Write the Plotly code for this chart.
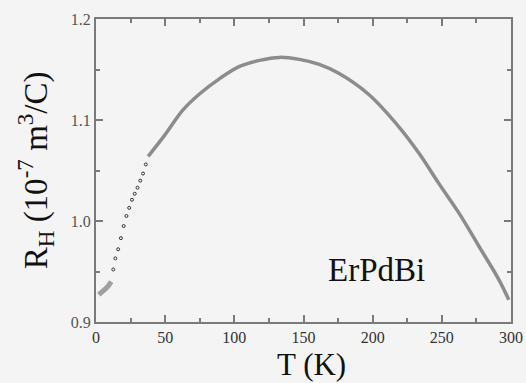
import plotly.graph_objects as go

# Low-temperature cluster (drawn as thick gray segment)
T_low = [2, 3, 5, 7, 9, 11]
R_low = [0.927, 0.928, 0.931, 0.933, 0.936, 0.940]

# Sparse dotted points
T_dot = [12.5, 14, 16, 18, 20, 22, 24, 26, 28, 30, 32, 34, 36]
R_dot = [0.952, 0.963, 0.972, 0.983, 0.995, 1.005, 1.013, 1.021, 1.027, 1.033, 1.040, 1.047, 1.056]

# Main continuous curve
T_main = [37.7, 49.7, 62.9, 75, 89.4, 103.8, 118.2, 132.6, 147, 161.4, 175.8,
          197.4, 219.1, 233.5, 247.9, 262.3, 276.8, 291.2, 298.4]
R_main = [1.064, 1.085, 1.110, 1.126, 1.141, 1.153, 1.159, 1.162, 1.160, 1.155,
          1.146, 1.125, 1.093, 1.067, 1.037, 1.008, 0.975, 0.942, 0.922]

x_ticks = [0, 50, 100, 150, 200, 250, 300]
y_ticks = [0.9, 1.0, 1.1, 1.2]
y_tick_text = ["0.9", "1.0", "1.1", "1.2"]

x_title = "T (K)"
y_title = "R<sub>H</sub> (10<sup>-7</sup> m<sup>3</sup>/C)"
label = "ErPdBi"

serif = "Liberation Serif"
fig = go.Figure()
fig.add_trace(go.Scatter(x=T_low, y=R_low, mode="lines",
                         line=dict(color="#a0a0a0", width=5), showlegend=False))
fig.add_trace(go.Scatter(x=T_dot, y=R_dot, mode="markers",
                         marker=dict(symbol="circle-open", size=3, color="#333",
                                     line=dict(width=1, color="#333")),
                         showlegend=False))
fig.add_trace(go.Scatter(x=T_main, y=R_main, mode="lines", line_shape="spline",
                         line=dict(color="#8c8c8c", width=3.5), showlegend=False))

axis_common = dict(showline=True, linecolor="#7a7a7a", linewidth=2, mirror="ticks",
                   ticks="inside", ticklen=7, tickwidth=2, tickcolor="#7a7a7a",
                   showgrid=False, zeroline=False, automargin=False)

fig.update_xaxes(range=[0, 300], tickvals=x_ticks,
                 minor=dict(ticks="inside", dtick=25, ticklen=4, tickcolor="#7a7a7a", tickwidth=1.5),
                 tickfont=dict(family=serif, size=16, color="#333"),
                 **axis_common)
fig.update_yaxes(range=[0.9, 1.2], tickvals=y_ticks, ticktext=y_tick_text,
                 minor=dict(ticks="inside", dtick=0.05, ticklen=4, tickcolor="#7a7a7a", tickwidth=1.5),
                 tickfont=dict(family=serif, size=16, color="#555"),
                 **axis_common)

# Axis titles
fig.add_annotation(text=x_title, xref="paper", yref="paper", x=0.52, y=-0.141,
                   xanchor="center", yanchor="middle", showarrow=False,
                   font=dict(family=serif, size=31, color="#111"))
fig.add_annotation(text=y_title, xref="paper", yref="paper", x=-0.145, y=0.5,
                   xanchor="center", yanchor="middle", textangle=-90, showarrow=False,
                   font=dict(family=serif, size=33, color="#111"))

fig.add_annotation(text=label, xref="paper", yref="paper", x=0.677, y=0.172,
                   xanchor="center", yanchor="middle",
                   showarrow=False, font=dict(family=serif, size=33, color="#111"))

fig.update_layout(width=526, height=383,
                  margin=dict(l=96, r=15, t=19, b=61),
                  paper_bgcolor="#f4f4f4", plot_bgcolor="#f4f4f4")

fig.write_html("out.html")
